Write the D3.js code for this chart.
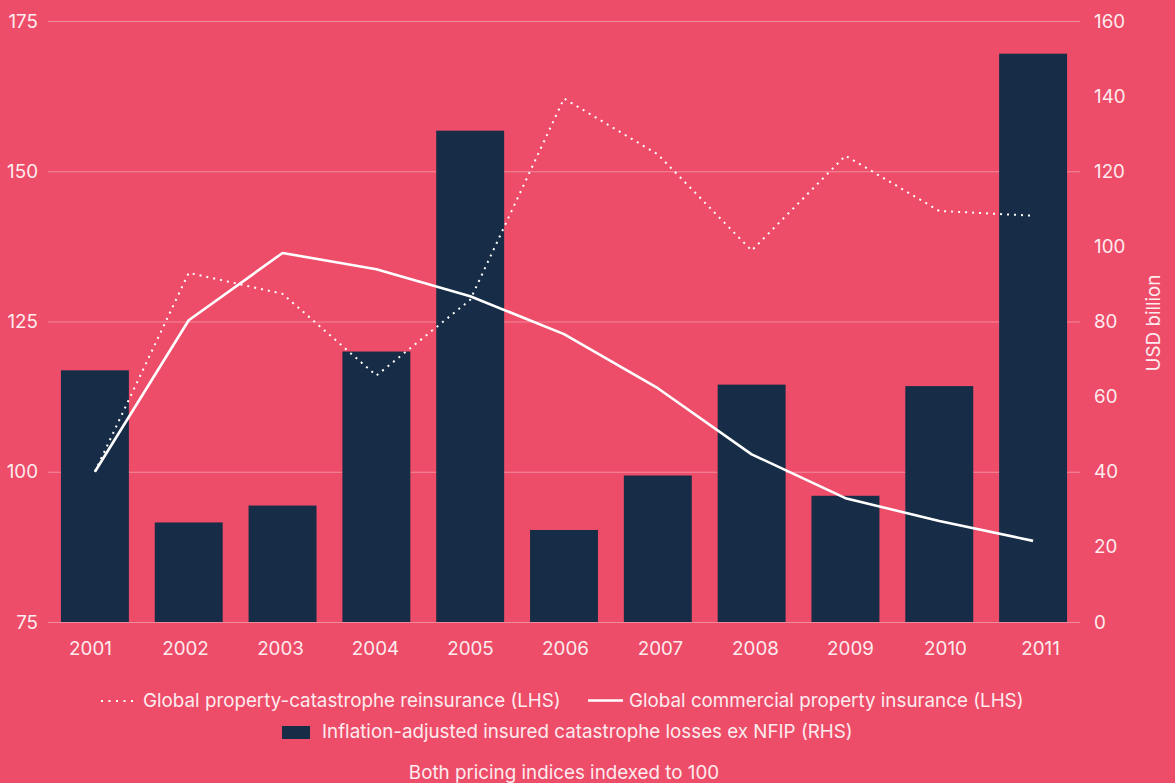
<!DOCTYPE html>
<html><head><meta charset="utf-8">
<script src="https://cdn.jsdelivr.net/npm/d3@7"></script>
<style>
html,body{margin:0;padding:0;background:#ED4D69;}
svg{display:block;}
text{font-family:Inter,"Noto Sans",sans-serif;fill:#FDEBEF;}
</style></head>
<body>
<svg id="chart" width="1175" height="783"></svg>
<script>
const years = ["2001","2002","2003","2004","2005","2006","2007","2008","2009","2010","2011"];
const catLosses = [67, 26.5, 31, 72, 130.8, 24.5, 39, 63.2, 33.6, 62.8, 151.3];
const reinsurance = [100, 133.1, 129.6, 116, 128.6, 162.1, 152.8, 136.8, 152.6, 143.4, 142.6];
const commercial = [100, 125.2, 136.4, 133.7, 129.2, 122.9, 113.9, 102.9, 95.6, 91.8, 88.5];
const leftTicks = [75, 100, 125, 150, 175];
const rightTicks = [0, 20, 40, 60, 80, 100, 120, 140, 160];
const legendLabels = ["Global property-catastrophe reinsurance (LHS)", "Global commercial property insurance (LHS)", "Inflation-adjusted insured catastrophe losses ex NFIP (RHS)"];
const note = "Both pricing indices indexed to 100";
const rightTitle = "USD billion";

const FS = 18.8;
const svg = d3.select("#chart");
const m = {l:48, r:1080, t:21, b:622};
const x = d3.scaleBand().domain(years).range([m.l, m.r]).paddingInner(0.276).paddingOuter(0.138);
const xLab = d3.scalePoint().domain(years).range([90, 1040]);
const yL = d3.scaleLinear().domain([75,175]).range([m.b, m.t]);
const yR = d3.scaleLinear().domain([0,160]).range([m.b, m.t]);

// gridlines
const gridAxis = d3.axisLeft(yL).tickValues(leftTicks).tickSize(-(m.r-m.l)).tickFormat("");
const gg = svg.append("g").attr("transform",`translate(${m.l},0)`).call(gridAxis);
gg.select(".domain").remove();
gg.selectAll("line").attr("stroke","rgba(255,255,255,0.35)").attr("stroke-width",1);

// bars
svg.append("g").selectAll("rect").data(years).join("rect")
  .attr("x", d=>x(d)).attr("width", x.bandwidth())
  .attr("y", (d,i)=>yR(catLosses[i])).attr("height",(d,i)=>m.b-yR(catLosses[i]))
  .attr("fill","#172C46");

// left axis labels
const la = svg.append("g").attr("transform",`translate(${m.l},0)`)
  .call(d3.axisLeft(yL).tickValues(leftTicks).tickSize(0).tickPadding(10));
la.select(".domain").remove();
la.selectAll("text").attr("font-size",FS).style("font-family","Inter,sans-serif").attr("fill","#FDEBEF");

// right axis labels
const ra = svg.append("g").attr("transform",`translate(${m.r},0)`)
  .call(d3.axisRight(yR).tickValues(rightTicks).tickSize(0).tickPadding(14));
ra.select(".domain").remove();
ra.selectAll("text").attr("font-size",FS).style("font-family","Inter,sans-serif").attr("fill","#FDEBEF");

// x axis labels
const xa = svg.append("g").attr("transform",`translate(0,${m.b})`)
  .call(d3.axisBottom(xLab).tickSize(0).tickPadding(20));
xa.select(".domain").remove();
xa.selectAll("text").attr("font-size",FS).style("font-family","Inter,sans-serif").attr("fill","#FDEBEF");

// lines
const cx = d => x(d) + x.bandwidth()/2;
const lineGen = arr => d3.line().x((d,i)=>cx(years[i])).y(d=>yL(d))(arr);
svg.append("path").attr("d", lineGen(reinsurance)).attr("fill","none")
  .attr("stroke","#fff").attr("stroke-width",2).attr("stroke-dasharray","2,5");
svg.append("path").attr("d", lineGen(commercial)).attr("fill","none")
  .attr("stroke","#fff").attr("stroke-width",2.6).attr("stroke-linejoin","round");

// right axis title
svg.append("text").attr("transform","translate(1160,323) rotate(-90)")
  .attr("text-anchor","middle").attr("font-size",FS).text(rightTitle);

// legend
const lg = svg.append("g");
lg.append("line").attr("x1",101).attr("x2",136).attr("y1",701).attr("y2",701)
  .attr("stroke","#fff").attr("stroke-width",2).attr("stroke-dasharray","2,5.5");
lg.append("text").attr("x",143).attr("y",707).attr("font-size",FS).text(legendLabels[0]);
lg.append("line").attr("x1",588).attr("x2",623).attr("y1",700.5).attr("y2",700.5)
  .attr("stroke","#fff").attr("stroke-width",2.4);
lg.append("text").attr("x",629).attr("y",707).attr("font-size",FS).text(legendLabels[1]);
lg.append("rect").attr("x",282).attr("y",726).attr("width",28).attr("height",13).attr("fill","#172C46");
lg.append("text").attr("x",322).attr("y",738).attr("font-size",FS).text(legendLabels[2]);
svg.append("text").attr("x",564).attr("y",779).attr("text-anchor","middle").attr("font-size",FS).text(note);
</script>
</body></html>
